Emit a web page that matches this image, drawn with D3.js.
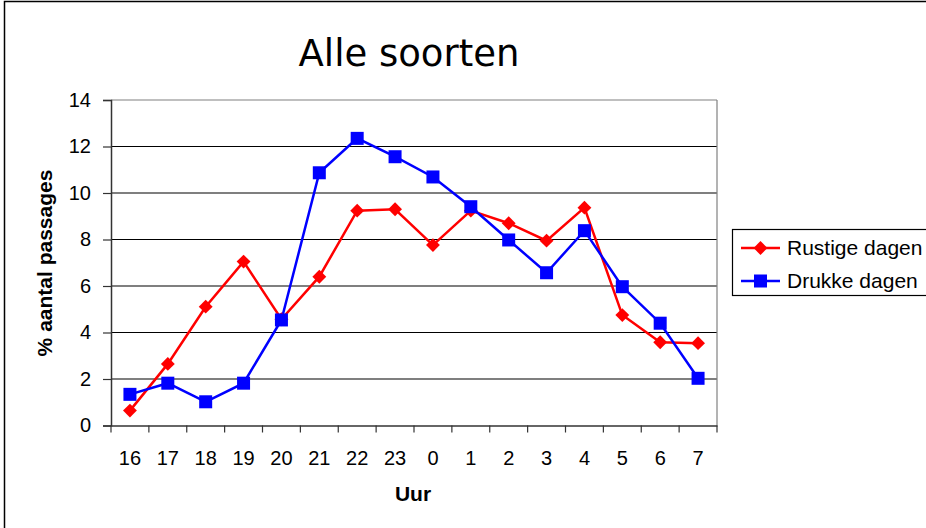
<!DOCTYPE html>
<html><head><meta charset="utf-8">
<script src="https://cdn.jsdelivr.net/npm/d3@7"></script>
<style>body{margin:0;background:#fff}svg{display:block}text{font-family:"Liberation Sans",Arial,sans-serif}</style>
</head><body><svg id="c" width="926" height="528"></svg>
<script>
const hours = ["16","17","18","19","20","21","22","23","0","1","2","3","4","5","6","7"];
const rustige = [0.64,2.65,5.11,7.05,4.57,6.40,9.24,9.30,7.76,9.24,8.70,7.95,9.37,4.75,3.58,3.54];
const drukke = [1.34,1.82,1.02,1.82,4.54,10.87,12.35,11.56,10.69,9.41,7.98,6.57,8.38,5.97,4.40,2.03];
const yTicks = [0,2,4,6,8,10,12,14];
const seriesNames = ["Rustige dagen","Drukke dagen"];
const colors = ["#ff0000","#0000ff"];

const svg = d3.select("#c");
svg.append("rect").attr("x",4.5).attr("y",1.5).attr("width",940).attr("height",540).attr("fill","#fff").attr("stroke","#000").attr("stroke-width",1.5);

const L=111, R=717, T=100, B=425.5;
const x = d3.scaleBand().domain(hours).range([L,R]);
const y = d3.scaleLinear().domain([0,14]).range([B,T]);

const g = svg.append("g");
g.selectAll(".grid").data(yTicks.filter(d=>d>0)).join("line")
  .attr("x1",L).attr("x2",R).attr("y1",d=>y(d)).attr("y2",d=>y(d))
  .attr("stroke",d=>d===14?"#808080":"#000").attr("stroke-width",1.2);
g.append("line").attr("x1",R).attr("x2",R).attr("y1",T).attr("y2",B).attr("stroke","#808080").attr("stroke-width",1.2);

const yAxis = d3.axisLeft(y).tickValues(yTicks).tickSize(8).tickPadding(12).tickFormat(d3.format("d"));
const ya = svg.append("g").attr("transform",`translate(${L},0)`).call(yAxis);
const xAxis = d3.axisBottom(x).tickSize(0).tickPadding(25);
const xa = svg.append("g").attr("transform",`translate(0,${B})`).call(xAxis);
[ya,xa].forEach(a=>{a.select(".domain").attr("stroke","#333").attr("stroke-width",1.5);
  a.selectAll(".tick line").attr("stroke","#333").attr("stroke-width",1.2);
  a.selectAll("text").attr("font-size",20).attr("fill","#000").style("font-family","Liberation Sans, Arial");});
const bounds = hours.map(h=>x(h)).concat([R]);
svg.append("g").selectAll("line").data(bounds).join("line")
  .attr("x1",d=>d).attr("x2",d=>d).attr("y1",B).attr("y2",B+7).attr("stroke","#333").attr("stroke-width",1.2);

const cx = h => x(h)+x.bandwidth()/2;
const data = [rustige,drukke];
data.forEach((vals,i)=>{
  const line = d3.line().x((d,j)=>cx(hours[j])).y(d=>y(d));
  svg.append("path").datum(vals).attr("d",line).attr("fill","none").attr("stroke",colors[i]).attr("stroke-width",2.5);
});
const diamond = d3.symbol().type(d3.symbolSquare).size(96);
svg.append("g").selectAll("path").data(rustige).join("path")
  .attr("d",diamond).attr("transform",(d,j)=>`translate(${cx(hours[j])},${y(d)}) rotate(45)`).attr("fill",colors[0]);
svg.append("g").selectAll("rect").data(drukke).join("rect")
  .attr("x",(d,j)=>cx(hours[j])-6.5).attr("y",d=>y(d)-6.5).attr("width",13).attr("height",13).attr("fill",colors[1]);

svg.append("text").attr("x",409).attr("y",66).attr("text-anchor","middle").attr("font-size",37).style("font-family","DejaVu Sans, Verdana").text("Alle soorten");
svg.append("text").attr("transform","translate(52,263) rotate(-90)").attr("text-anchor","middle").attr("font-size",21).attr("font-weight","bold").text("% aantal passages");
svg.append("text").attr("x",413).attr("y",501).attr("text-anchor","middle").attr("font-size",21).attr("font-weight","bold").text("Uur");

const lg = svg.append("g");
lg.append("rect").attr("x",732.5).attr("y",229.5).attr("width",220).attr("height",66).attr("fill","#fff").attr("stroke","#000").attr("stroke-width",1.2);
seriesNames.forEach((n,i)=>{
  const yy = 248 + i*33;
  lg.append("line").attr("x1",741).attr("x2",780).attr("y1",yy).attr("y2",yy).attr("stroke",colors[i]).attr("stroke-width",2.5);
  if(i===0) lg.append("path").attr("d",diamond).attr("transform",`translate(760.5,${yy}) rotate(45)`).attr("fill",colors[0]);
  else lg.append("rect").attr("x",754).attr("y",yy-6.5).attr("width",13).attr("height",13).attr("fill",colors[1]);
  lg.append("text").attr("x",787).attr("y",yy+7).attr("font-size",21).text(n);
});
</script></body></html>
